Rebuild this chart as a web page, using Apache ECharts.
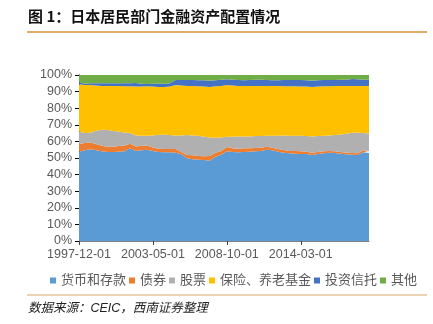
<!DOCTYPE html>
<html>
<head>
<meta charset="utf-8">
<style>
html,body{margin:0;padding:0;background:#fff;}
#chart{width:433px;height:324px;}
</style>
<script src="https://cdn.jsdelivr.net/npm/echarts@6/dist/echarts.min.js"></script>
</head>
<body>
<div id="chart"></div>
<script>
var categories = [
  '1997-12-01','1998-05-01','1998-10-01','1999-03-01','1999-08-01','2000-01-01','2000-06-01','2000-11-01',
  '2001-04-01','2001-09-01','2002-02-01','2002-07-01','2002-12-01','2003-05-01','2003-10-01','2004-03-01',
  '2004-08-01','2005-01-01','2005-06-01','2005-11-01','2006-04-01','2006-09-01','2007-02-01','2007-07-01',
  '2007-12-01','2008-05-01','2008-10-01','2009-03-01','2009-08-01','2010-01-01','2010-06-01','2010-11-01',
  '2011-04-01','2011-09-01','2012-02-01','2012-07-01','2012-12-01','2013-05-01','2013-10-01','2014-03-01',
  '2014-08-01','2015-01-01','2015-06-01','2015-11-01','2016-04-01','2016-09-01','2017-02-01','2017-07-01',
  '2017-12-01','2018-05-01','2018-10-01','2019-03-01'
];
var deposits = [53.8,54.6,55.2,54.6,54.0,53.6,53.6,53.8,54.0,55.8,54.2,54.6,55.0,54.2,53.6,53.4,
  53.4,53.2,52.2,49.8,49.2,49.0,48.8,48.4,50.8,52.0,54.0,53.6,53.4,53.6,53.8,54.0,
  54.2,55.0,54.6,53.8,53.2,52.8,52.6,52.4,52.4,51.8,52.4,52.8,53.2,53.0,52.6,52.2,
  52.0,51.8,53.4,53.0];
var bonds = [4.6,4.4,4.2,3.8,3.4,3.2,3.2,3.4,3.6,2.8,2.8,2.8,2.6,2.2,2.0,2.0,
  2.0,2.2,1.4,2.0,2.4,2.2,2.2,2.8,2.4,2.2,2.6,2.2,2.2,2.2,2.0,2.0,
  2.0,1.8,1.6,1.6,1.6,1.4,1.6,1.6,1.4,1.4,1.2,1.2,1.0,1.0,1.0,1.0,
  1.0,1.0,1.2,1.2];
var stocks = [7.5,6.0,5.8,8.0,9.6,10.0,9.4,8.8,7.8,6.4,6.6,6.0,5.8,7.2,8.4,8.6,
  8.4,8.0,10.0,12.0,12.0,12.2,11.8,11.2,9.0,8.2,6.2,7.0,7.4,7.2,7.2,7.2,
  7.0,6.6,7.2,8.0,8.8,9.2,9.2,9.4,9.4,9.8,9.6,9.4,9.4,9.8,10.6,11.4,
  12.2,12.4,10.4,10.6];
var insurance = [28.5,29.0,28.8,27.2,26.4,26.6,27.2,27.4,27.8,28.2,29.4,29.6,29.8,29.4,28.8,28.8,
  29.2,30.6,30.0,29.6,29.8,29.8,30.2,30.4,31.0,31.0,31.2,30.8,30.4,30.4,30.4,30.2,
  30.2,30.0,30.0,30.0,29.6,29.8,29.8,29.6,29.8,29.8,29.8,29.8,29.6,29.6,29.2,28.8,
  28.2,28.2,28.4,28.6];
var trusts = [1.2,0.8,1.0,1.4,1.6,1.6,1.6,1.6,1.8,1.8,2.2,1.8,1.4,1.8,2.0,2.0,
  2.0,3.0,3.4,3.6,3.6,3.6,3.8,3.8,3.6,3.8,3.4,3.6,3.6,3.4,3.6,3.8,
  3.8,3.6,3.4,3.4,3.8,3.8,3.8,4.0,3.8,3.8,3.8,3.8,3.8,3.6,3.8,3.8,
  4.2,4.0,3.8,3.8];
var others = [4.4,5.2,5.0,5.0,5.0,5.0,5.0,5.0,5.0,5.0,4.8,5.2,5.4,5.2,5.2,5.2,
  5.0,3.0,3.0,3.0,3.0,3.2,3.2,3.4,3.2,2.8,2.6,2.8,3.0,3.2,3.0,2.8,
  2.8,3.0,3.2,3.2,3.0,3.0,3.0,3.0,3.2,3.4,3.2,3.0,3.0,3.0,2.8,2.8,
  2.4,2.6,2.8,2.8];
var seriesNames = ['货币和存款','债券','股票','保险、养老基金','投资信托','其他'];
var seriesData = [deposits, bonds, stocks, insurance, trusts, others];
var colors = ['#5B9BD5','#ED7D31','#B0B0B0','#FFC000','#4472C4','#70AD47'];
var yTicks = [0,10,20,30,40,50,60,70,80,90,100];

var FONT = '"Liberation Sans", "Noto Sans CJK SC", sans-serif';
var chart = echarts.init(document.getElementById('chart'), null, {renderer:'canvas'});
var series = seriesNames.map(function(n, i){
  return {
    name: n, type: 'line', stack: 'total', data: seriesData[i],
    symbol: 'none', smooth: false,
    lineStyle: {width: 0},
    areaStyle: {color: colors[i], opacity: 1},
    itemStyle: {color: colors[i]},
    emphasis: {disabled: true}
  };
});
chart.setOption({
  animation: false,
  color: colors,
  textStyle: {fontFamily: FONT},
  grid: {left: 79, right: 64, top: 75, bottom: 83, containLabel: false},
  legend: {
    left: 45, top: 269, itemWidth: 6, itemHeight: 6, itemGap: 3,
    icon: 'rect',
    textStyle: {fontSize: 13, color: '#595959', fontFamily: FONT},
    data: seriesNames
  },
  xAxis: {
    type: 'category', data: categories, boundaryGap: false,
    axisLine: {show: true, lineStyle: {color: '#7f7f7f', width: 1}},
    axisTick: {show: true, interval: 12, length: 4, lineStyle: {color: '#404040'}},
    axisLabel: {interval: 12, fontSize: 12.5, color: '#595959', margin: 7, fontFamily: FONT},
    splitLine: {show: false}
  },
  yAxis: {
    type: 'value', min: yTicks[0], max: yTicks[yTicks.length-1], interval: 10,
    axisLine: {show: true, lineStyle: {color: '#000', width: 1}},
    axisTick: {show: true, length: 4, lineStyle: {color: '#000'}},
    axisLabel: {formatter: '{value}%', fontSize: 12.5, color: '#595959', margin: 7, fontFamily: FONT},
    splitLine: {show: false}
  },
  series: series,
  graphic: [
    {type: 'text', left: 28, top: 9, style: {text: '图 1：日本居民部门金融资产配置情况', font: 'bold 15px "Noto Sans CJK SC", sans-serif', fill: '#111'}},
    {type: 'line', shape: {x1: 27, y1: 32, x2: 427, y2: 32}, style: {stroke: '#D49138', lineWidth: 1.5}},
    {type: 'line', shape: {x1: 27, y1: 295, x2: 427, y2: 295}, style: {stroke: '#D7A86A', lineWidth: 1}},
    {type: 'text', left: 28, top: 302, style: {text: '数据来源：CEIC，西南证券整理', font: 'italic 12.5px "Liberation Sans", "Noto Sans CJK SC", sans-serif', fill: '#222'}}
  ]
});
</script>
</body>
</html>
